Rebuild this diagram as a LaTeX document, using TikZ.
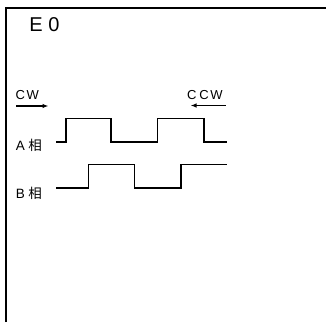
\documentclass[tikz,border=0pt]{standalone}
\usepackage{fontspec}
\setmainfont{Liberation Sans}
\newfontfamily\cjk{Noto Sans CJK JP}
\usetikzlibrary{arrows.meta,positioning}

\begin{document}
\begin{tikzpicture}[x=1pt, y=-1pt,
    lbl/.style={inner sep=0pt, anchor=base west, font=\fontsize{13.5}{13.5}\selectfont},
    wave/.style={line width=1.6pt, line join=miter},
    dir/.style={line width=1.4pt, -{Latex[length=6pt, width=4.5pt]}}
  ]
    \useasboundingbox (0,0) rectangle (326,322);
    % frame, open at right and bottom
    \draw[line width=2pt] (6,322) -- (6,7.6) -- (326,7.6);
    \node[lbl, font=\fontsize{20}{20}\selectfont] (title) at (29.2,31.7) {E 0};
    % direction labels
    \node[lbl, font=\fontsize{13}{13}\selectfont] (cw) at (15.4,99.3) {C\kern1.6pt W};
    \node[lbl, font=\fontsize{13}{13}\selectfont] (ccw) at (186.8,99.3) {C\kern3pt C\kern1.6pt W};
    \coordinate (cwa) at (16,106);
    \coordinate (cwb) at (48.5,106);
    \coordinate (ccwa) at (225.5,105.5);
    \coordinate (ccwb) at (190.5,105.5);
    \draw[dir] (cwa) -- (cwb);
    \draw[dir] (ccwa) -- (ccwb);
    % phase labels
    \node[lbl] (pa) at (15.6,150.7) {A\kern3.5pt{\cjk 相}};
    \node[lbl] (pb) at (15.6,198.7) {B\kern3.5pt{\cjk 相}};
    % A phase
    \draw[wave] (56,141.7) -| (65.7,118.3) -| (111,141.7) -| (157.3,118.3)
      -| (204,141.7) -- (226.7,141.7);
    % B phase
    \draw[wave] (56,187.7) -| (88.3,164.3) -| (134.3,187.7) -| (181,164.3)
      -- (226.7,164.3);
  \end{tikzpicture}
\end{document}
